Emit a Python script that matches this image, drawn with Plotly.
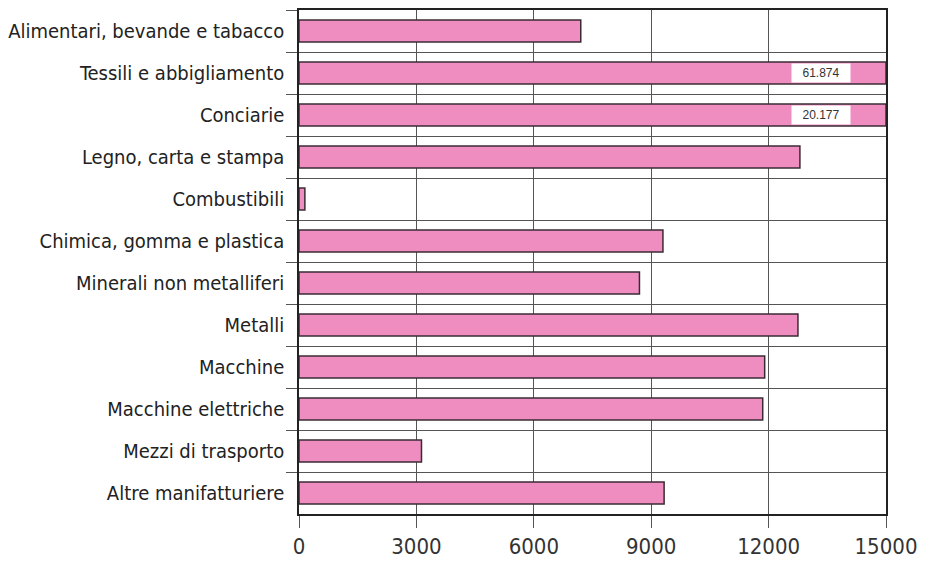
import plotly.graph_objects as go

categories = [
    "Alimentari, bevande e tabacco",
    "Tessili e abbigliamento",
    "Conciarie",
    "Legno, carta e stampa",
    "Combustibili",
    "Chimica, gomma e plastica",
    "Minerali non metalliferi",
    "Metalli",
    "Macchine",
    "Macchine elettriche",
    "Mezzi di trasporto",
    "Altre manifatturiere",
]
values = [7200, 61874, 20177, 12800, 150, 9300, 8700, 12750, 11900, 11850, 3130, 9330]
x_ticks = [0, 3000, 6000, 9000, 12000, 15000]
x_max = 15000
label_x = 13350  # where overflow labels sit

PINK = "#EF8DC1"
EDGE = "#3a2b33"
GRID = "#555555"
FONT = "DejaVu Sans Condensed, Liberation Sans Narrow, sans-serif"

fig = go.Figure()
fig.add_trace(go.Bar(
    y=categories, x=[min(v, x_max) for v in values], orientation="h",
    marker=dict(color=PINK, line=dict(color=EDGE, width=1.5)),
    width=0.52, hoverinfo="skip",
))

def fmt_it(v):
    return f"{v:,}".replace(",", ".")

for c, v in zip(categories, values):
    if v > x_max:
        fig.add_annotation(
            x=label_x, y=c, text=fmt_it(v), showarrow=False,
            bgcolor="white", font=dict(family="Liberation Sans", size=12, color="#333333"),
            borderpad=2, width=54,
        )

fig.update_layout(
    width=926, height=554,
    margin=dict(l=290, r=48, t=0, b=48),
    paper_bgcolor="white", plot_bgcolor="white",
    showlegend=False,
    font=dict(family=FONT, color="#222222"),
)
fig.update_xaxes(
    range=[0, x_max], tickvals=x_ticks, ticktext=[str(t) for t in x_ticks],
    showgrid=True, gridcolor=GRID, gridwidth=1,
    showline=True, linecolor="#222222", linewidth=1.5, mirror=True,
    ticks="outside", ticklen=12, tickcolor=GRID,
    tickfont=dict(size=22, color="#333333"), zeroline=False,
)
fig.update_yaxes(
    type="category", categoryorder="array", categoryarray=categories,
    autorange="reversed", tickson="boundaries",
    showgrid=True, gridcolor=GRID, gridwidth=1,
    showline=True, linecolor="#222222", linewidth=1.5, mirror=True,
    ticks="outside", ticklen=11, tickcolor=GRID, ticklabelstandoff=9,
    tickfont=dict(size=20, color="#222222"),
)

fig.write_html("out.html")
